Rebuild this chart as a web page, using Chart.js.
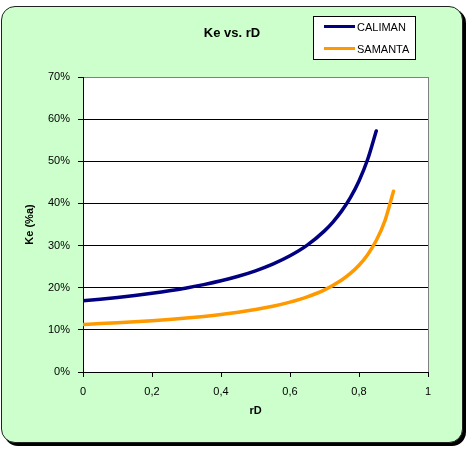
<!DOCTYPE html>
<html>
<head>
<meta charset="utf-8">
<script src="https://cdn.jsdelivr.net/npm/chart.js@4.4.1/dist/chart.umd.min.js"></script>
<style>
  html, body { margin: 0; padding: 0; background: #fff; }
  #wrap { position: relative; width: 472px; height: 453px; overflow: hidden; font-family: "Liberation Sans", Arial, sans-serif; }
  #marco { position: absolute; left: 1px; top: 6px; width: 462px; height: 437px; box-sizing: border-box;
           background: #ccffcc; border: 1px solid #222; border-radius: 14px; box-shadow: 3px 3px 0 #000; }
  #grafico { position: absolute; left: 0; top: 0; }
  #titulo { position: absolute; left: 0; width: 464px; top: 25px; line-height: 15px; text-align: center;
            font-weight: bold; font-size: 13px; color: #000; }
  #leyenda { position: absolute; left: 313px; top: 16px; width: 103px; height: 44px; box-sizing: border-box;
             background: #fff; border: 1px solid #000; }
  .item { position: absolute; left: 0; height: 14px; font-size: 11px; line-height: 14px; color: #000; }
  .item span.linea { position: absolute; left: 10px; top: 5px; width: 31px; height: 3px; }
  .item span.texto { position: absolute; left: 43px; top: 0; white-space: nowrap; }
</style>
</head>
<body>
<div id="wrap">
  <div id="marco"></div>
  <canvas id="grafico" width="472" height="453"></canvas>
  <div id="titulo">Ke vs. rD</div>
  <div id="leyenda"></div>
</div>
<script>
// datos
const nombres = ['CALIMAN', 'SAMANTA'];
const colores = ['#000080', '#ff9900'];

const rdCaliman = [0, 0.05, 0.10, 0.15, 0.20, 0.25, 0.30, 0.35, 0.40, 0.45, 0.50, 0.55, 0.60, 0.65, 0.70, 0.725, 0.75, 0.775, 0.80, 0.825, 0.85];
const keCaliman = [16.9, 17.27, 17.69, 18.15, 18.68, 19.27, 19.95, 20.73, 21.64, 22.72, 24.01, 25.59, 27.57, 30.10, 33.49, 35.64, 38.23, 41.39, 45.34, 50.42, 57.2];

const rdSamanta = [0, 0.05, 0.10, 0.15, 0.20, 0.25, 0.30, 0.35, 0.40, 0.45, 0.50, 0.55, 0.60, 0.65, 0.70, 0.75, 0.775, 0.80, 0.825, 0.85, 0.875, 0.90];
const keSamanta = [11.3, 11.48, 11.69, 11.92, 12.18, 12.47, 12.80, 13.19, 13.64, 14.17, 14.81, 15.59, 16.57, 17.82, 19.49, 21.83, 23.39, 25.34, 27.85, 31.19, 35.87, 42.9];

const xTickLabels = ['0', '0,2', '0,4', '0,6', '0,8', '1'];
const yTickLabels = ['0%', '10%', '20%', '30%', '40%', '50%', '60%', '70%'];

// leyenda en html
const leyenda = document.getElementById('leyenda');
nombres.forEach((n, i) => {
  const item = document.createElement('div');
  item.className = 'item';
  item.style.top = (i === 0 ? 3 : 24.5) + 'px';
  item.innerHTML = '<span class="linea" style="background:' + colores[i] + '"></span><span class="texto">' + n + '</span>';
  leyenda.appendChild(item);
});

const puntos = (xs, ys) => xs.map((x, i) => ({ x: x, y: ys[i] }));

// fondo blanco del area de trazado
const fondoBlanco = {
  id: 'fondoBlanco',
  beforeDraw(chart) {
    const a = chart.chartArea;
    const c = chart.ctx;
    c.save();
    c.fillStyle = '#fff';
    c.fillRect(a.left, a.top, a.right - a.left, a.bottom - a.top);
    c.restore();
  }
};

Chart.defaults.color = '#000';
Chart.defaults.font.family = '"Liberation Sans", Arial, sans-serif';
Chart.defaults.font.size = 11;

const ctx = document.getElementById('grafico').getContext('2d');
new Chart(ctx, {
  type: 'line',
  data: {
    datasets: [
      {
        label: nombres[0],
        data: puntos(rdCaliman, keCaliman),
        borderColor: colores[0],
        borderWidth: 3.5,
        borderCapStyle: 'round',
        pointRadius: 0,
        cubicInterpolationMode: 'monotone'
      },
      {
        label: nombres[1],
        data: puntos(rdSamanta, keSamanta),
        borderColor: colores[1],
        borderWidth: 3.5,
        borderCapStyle: 'round',
        pointRadius: 0,
        cubicInterpolationMode: 'monotone'
      }
    ]
  },
  options: {
    responsive: false,
    animation: false,
    layout: { padding: { top: 77, right: 44, left: 0, bottom: 0 } },
    scales: {
      x: {
        type: 'linear',
        min: 0,
        max: 1,
        afterFit: (s) => { s.height = 81; },
        ticks: {
          stepSize: 0.2,
          padding: 8,
          maxRotation: 0,
          callback: (v, i) => xTickLabels[i]
        },
        grid: {
          color: (c) => (c.tick && Math.abs(c.tick.value - 1) < 1e-9) ? '#808080' : 'rgba(0,0,0,0)',
          tickColor: '#000',
          tickLength: 5
        },
        border: { color: '#000', width: 1 },
        title: {
          display: true,
          text: 'rD',
          font: { weight: 'bold', size: 11 },
          padding: { top: 0, bottom: 35 }
        }
      },
      y: {
        min: 0,
        max: 70,
        afterFit: (s) => { s.width = 83; },
        ticks: {
          stepSize: 10,
          padding: 8,
          callback: (v, i) => yTickLabels[i]
        },
        grid: {
          color: (c) => (c.tick && c.tick.value === 70) ? '#808080' : '#000',
          tickColor: '#000',
          tickLength: 5
        },
        border: { color: '#000', width: 1 },
        title: {
          display: true,
          text: 'Ke (%a)',
          font: { weight: 'bold', size: 11 },
          padding: { top: 23, bottom: 0 }
        }
      }
    },
    plugins: {
      legend: { display: false },
      tooltip: { enabled: false }
    }
  },
  plugins: [fondoBlanco]
});
</script>
</body>
</html>
